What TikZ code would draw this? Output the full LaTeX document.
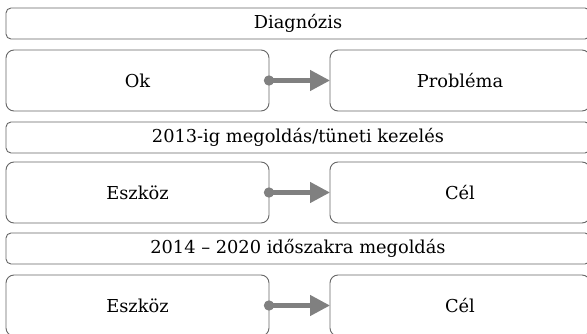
\documentclass[tikz,border=0pt]{standalone}
\usepackage{fontspec}
\setmainfont{DejaVu Serif}
\usetikzlibrary{arrows.meta}
\definecolor{edgegray}{HTML}{666666}
\definecolor{linkgray}{HTML}{808080}
\newcommand{\boxtext}[1]{{\fontsize{17.8}{21}\selectfont #1}}
\tikzset{
  boxbase/.style={draw=edgegray, line width=0.9pt, anchor=north west, inner sep=0pt,
    outer sep=0pt, text=black},
  header/.style={boxbase, rounded corners=5pt, minimum width=584pt, minimum height=31pt},
  item/.style={boxbase, rounded corners=8pt, minimum height=61pt},
  leftitem/.style={item, minimum width=263pt},
  rightitem/.style={item, minimum width=260pt},
  link/.style={draw=linkgray, line width=4.5pt,
    {Circle[length=10pt,width=10pt]}-{Triangle[length=20pt,width=20pt]}, shorten <=-5pt}
}
\begin{document}
\begin{tikzpicture}[x=1pt,y=-1pt]
\useasboundingbox (0,0) rectangle (587,334);
\clip (0,0) rectangle (587,334);

% row 1
\node[header] (h1) at (6,8) {\boxtext{Diagnózis}};
\node[leftitem] (ok) at (6,50) {\boxtext{Ok}};
\node[rightitem] (prob) at (330,50) {\boxtext{Probléma}};
\draw[link] (ok.east) -- (prob.west);

% row 2
\node[header] (h2) at (6,122) {\boxtext{2013-ig megoldás/tüneti kezelés}};
\node[leftitem] (m2) at (6,162) {\boxtext{Eszköz}};
\node[rightitem] (g2) at (330,162) {\boxtext{Cél}};
\draw[link] (m2.east) -- (g2.west);

% row 3
\node[header] (h3) at (6,233) {\boxtext{2014 – 2020 időszakra megoldás}};
\node[leftitem] (m3) at (6,275) {\boxtext{Eszköz}};
\node[rightitem] (g3) at (330,275) {\boxtext{Cél}};
\draw[link] (m3.east) -- (g3.west);
\end{tikzpicture}
\end{document}
